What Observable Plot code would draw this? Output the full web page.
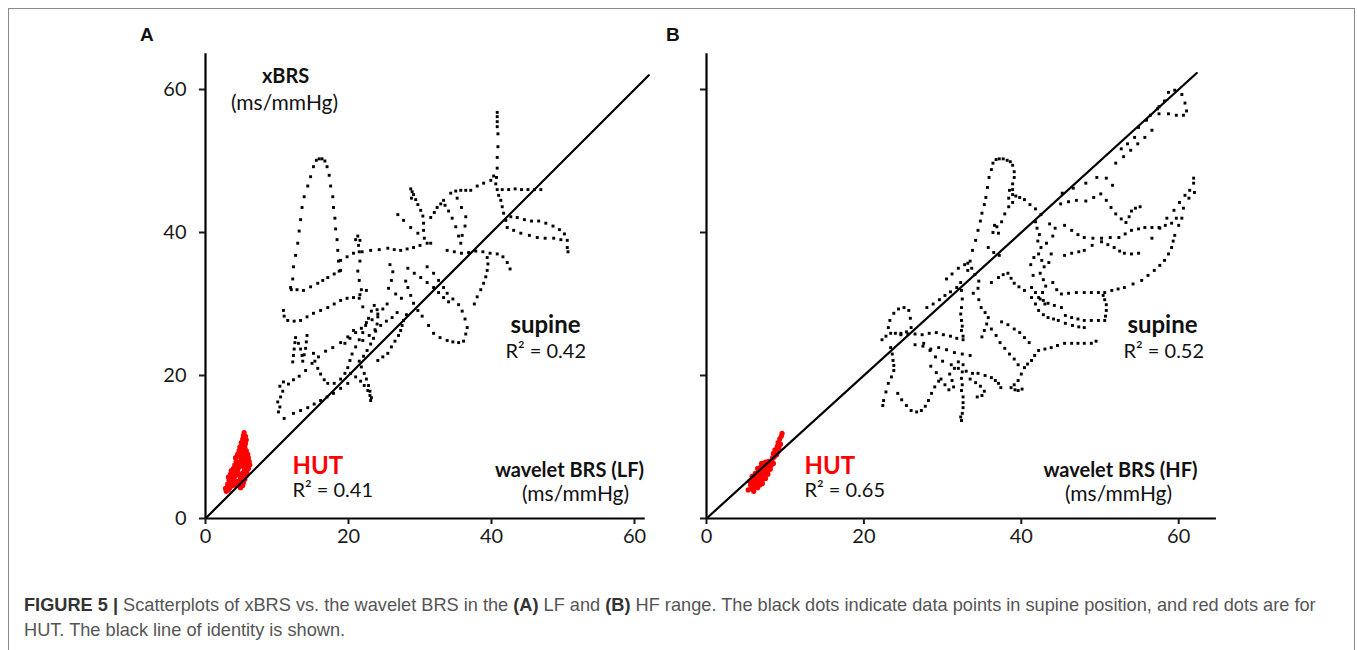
<!DOCTYPE html>
<html><head><meta charset="utf-8">
<script src="https://cdn.jsdelivr.net/npm/d3@7"></script>
<script src="https://cdn.jsdelivr.net/npm/@observablehq/plot@0.6"></script>
<style>
html,body{margin:0;padding:0;background:#fff;width:1357px;height:650px;overflow:hidden;}
#frame{position:absolute;left:8px;top:8px;width:1345px;height:700px;border:1px solid #8a8a8a;}
.panel{position:absolute;}
.letter{position:absolute;font-family:"Liberation Sans",Arial,sans-serif;font-weight:bold;font-size:19px;color:#111;}
#caption{position:absolute;left:24px;top:593px;font-family:"Liberation Sans",Arial,sans-serif;font-size:18.2px;line-height:25px;color:#555;white-space:nowrap;}
#caption b{color:#333;}
</style></head><body>
<div id="frame"></div>
<div class="letter" style="left:140px;top:24px">A</div>
<div class="letter" style="left:666px;top:24px">B</div>
<div id="panelA" class="panel" style="left:120px;top:40px"></div>
<div id="panelB" class="panel" style="left:676px;top:40px"></div>
<div id="caption"><b>FIGURE 5 |</b> Scatterplots of xBRS vs. the wavelet BRS in the <b>(A)</b> LF and <b>(B)</b> HF range. The black dots indicate data points in supine position, and red dots are for<br>HUT. The black line of identity is shown.</div>
<script>
// ---------- shared ----------
const xTicks = [0, 20, 40, 60];
const yTicks = [0, 20, 40, 60];
const identityA = [[0, 0], [62, 62]];
const identityB = [[0, 0], [62.3, 62.3]];

// ---------- data: panel A (wavelet BRS LF vs xBRS), ms/mmHg ----------
const supineA_bell = [[12.0,32.0],[12.2,33.5],[12.3,35.2],[12.6,36.8],[12.9,38.5],[13.1,40.2],[13.3,41.8],[13.5,43.5],[13.8,45.0],[14.3,46.5],[14.7,47.8],[15.1,49.2],[15.5,50.1],[15.9,50.3],[16.3,50.3],[16.7,50.0],[17.0,49.2],[17.3,48.0],[17.5,46.5],[17.8,45.0],[17.9,43.5],[18.1,42.0],[18.2,40.5],[18.4,39.0],[18.5,37.5],[18.6,36.0],[18.7,34.6]];
const supineA_left = [[10.9,29.1],[11.0,28.3],[11.5,27.7],[12.4,27.6],[13.3,27.7],[14.2,28.2],[15.1,28.7],[16.1,29.1],[17.1,29.5],[18.0,30.0],[18.9,30.5],[19.8,30.8],[20.7,30.9],[21.6,31.3],[22.5,31.9],[11.9,32.3],[12.8,32.0],[13.7,31.9],[14.7,32.4],[15.7,32.9],[16.4,33.3],[17.1,33.7],[18.0,34.2],[18.9,34.7]];
const supineA_upper = [[18.9,36.1],[19.8,36.6],[20.7,37.1],[21.9,37.3],[23.1,37.5],[24.3,37.6],[25.5,37.8],[26.4,37.6],[27.3,37.5],[28.2,37.7],[29.1,37.9],[30.0,38.2],[31.0,38.5]];
const supineA_spike21 = [[21.3,39.5],[21.0,39.0],[21.6,38.9],[21.4,38.2],[21.5,37.3],[21.6,36.0],[21.3,34.6],[21.5,33.3],[21.8,32.0],[21.5,30.8],[22.0,29.6]];
const supineA_spike41 = [[40.8,56.8],[40.8,56.2],[40.8,55.5],[40.8,54.8],[40.9,53.8],[40.9,52.0],[40.8,50.5],[40.8,49.0],[40.7,47.7],[40.6,46.8],[40.8,46.0],[41.0,45.2],[41.3,44.5],[41.5,43.6],[41.7,42.7],[42.0,41.7],[42.2,40.7],[43.1,40.3],[44.1,39.9],[45.3,39.6],[46.4,39.3],[47.5,39.2],[48.7,39.2],[49.7,39.0],[50.6,38.9],[50.6,37.9],[50.7,37.3]];
const supineA_rise = [[31.5,42.1],[32.0,42.8],[32.4,43.5],[32.9,44.0],[33.3,44.5],[34.3,45.5],[35.0,45.8],[35.7,45.9],[36.4,45.9],[37.1,45.9],[38.0,46.5],[38.9,46.9],[39.9,47.3],[40.3,47.9]];
const supineA_row46 = [[41.5,46.0],[42.4,46.0],[43.3,46.1],[44.2,46.0],[45.1,46.0],[46.0,46.0],[46.9,46.0]];
const supineA_v36 = [[35.2,44.8],[35.8,43.5],[36.4,42.2],[36.3,40.9],[35.9,39.6],[35.7,38.5],[35.4,39.5],[35.0,40.8],[34.5,42.0],[34.0,43.0],[33.5,43.8]];
const supineA_c29 = [[28.7,46.1],[28.9,45.7],[29.1,45.3],[28.8,44.8],[29.4,44.6],[29.7,43.9],[30.1,43.1],[30.4,42.3],[30.5,41.3],[30.5,40.3],[26.9,42.5],[27.7,41.7],[28.7,40.7],[29.7,39.9],[30.6,39.2],[31.5,38.5]];
const supineA_right = [[42.7,42.2],[43.6,42.1],[44.6,41.8],[45.6,41.6],[46.6,41.6],[47.6,41.3],[48.6,40.9],[49.5,40.4],[50.2,39.8]];
const supineA_row37 = [[33.8,37.5],[34.8,37.3],[35.8,37.1],[36.8,37.2],[37.8,37.4],[38.8,37.3],[39.8,37.1],[40.8,37.0],[41.6,36.6],[42.2,35.8],[42.6,34.9]];
const supineA_drop39 = [[39.4,36.5],[39.5,35.6],[39.4,34.7],[39.2,33.8],[38.9,32.9],[38.5,32.0],[38.0,31.0],[37.6,30.0]];
const supineA_diag = [[31.0,35.2],[31.9,34.3],[32.6,33.3],[33.3,32.3],[33.8,31.5],[34.6,30.7],[35.4,29.9],[35.9,29.0],[36.3,27.9],[36.6,26.7],[36.4,25.8]];
const supineA_tail = [[31.2,27.0],[31.9,25.9],[32.8,25.3],[33.8,24.9],[34.6,24.7],[35.4,24.6],[36.1,24.8]];
const supineA_cross = [[28.3,35.0],[29.2,34.3],[30.1,33.7],[31.0,33.0],[31.9,32.3],[32.6,31.6],[33.3,30.9],[34.0,30.3]];
const supineA_lowleft = [[10.2,14.9],[10.4,15.6],[10.1,16.3],[10.5,17.0],[10.8,17.8],[10.4,18.5],[10.9,19.1],[11.6,18.8],[12.3,19.4],[13.1,19.9],[14.0,20.7],[14.9,21.7],[15.8,22.6],[16.8,23.4],[17.8,23.9],[18.9,24.6],[19.9,25.4],[20.7,26.3]];
const supineA_n = [[12.2,21.9],[12.3,22.8],[12.4,23.7],[12.5,24.6],[12.6,25.3],[13.0,24.5],[13.3,23.7],[13.5,22.8],[13.6,22.0],[13.8,22.9],[14.0,23.8],[14.1,24.7],[14.2,25.6]];
const supineA_loop = [[15.1,23.1],[15.3,22.0],[15.7,21.0],[16.1,20.2],[16.6,19.4],[17.1,18.9],[18.0,18.9],[18.9,19.5],[19.5,20.3],[19.9,21.1],[20.2,22.1],[20.5,23.0]];
const supineA_flame = [[20.3,20.3],[21.0,19.8],[21.7,19.2],[22.2,18.6],[22.7,17.9],[23.0,17.2],[23.1,16.5],[23.2,16.9],[23.0,17.8],[22.8,18.6],[22.5,19.5],[22.2,20.3],[21.8,21.2],[21.5,22.0]];
const supineA_low = [[11.0,14.0],[12.3,14.7],[13.3,15.1],[14.3,15.5],[15.2,16.0],[16.1,16.5],[17.0,17.0],[17.9,17.5],[18.9,18.2],[19.9,18.9]];
const supineA_leaf = [[21.0,24.0],[21.5,25.0],[22.0,26.0],[22.4,27.0],[22.8,28.0],[23.2,29.0],[23.6,29.8],[24.0,29.2],[24.1,28.2],[24.0,27.2],[23.8,26.2],[23.5,25.2],[23.1,24.4],[22.6,23.5],[22.1,22.7],[19.5,24.5],[20.2,25.2],[21.0,26.0],[21.8,26.6],[22.5,27.4],[23.3,27.8],[24.1,28.6],[24.8,29.3],[25.4,30.0],[22.0,24.9],[22.9,25.6],[23.7,26.4],[24.5,27.0],[25.3,27.6],[26.1,28.1],[26.8,28.8]];
const supineA_stair = [[24.1,22.1],[24.8,22.6],[25.5,23.1],[26.0,24.0],[26.5,24.8],[27.0,25.6],[27.3,26.3],[27.5,27.0],[27.7,27.7],[28.1,28.5]];
const supineA_mid = [[28.0,33.2],[28.3,32.3],[28.7,31.2],[29.1,30.1],[29.7,29.1],[30.3,28.3],[25.8,35.5],[26.2,34.5],[26.0,33.3],[25.6,32.2],[26.6,31.4],[27.4,30.8]];

const hutA = [[2.9,3.8],[3.0,4.3],[3.1,4.8],[3.3,5.3],[3.2,5.8],[3.5,6.2],[3.6,6.7],[3.9,7.0],[4.1,7.5],[4.3,8.0],[4.2,8.5],[4.5,9.0],[4.7,9.5],[4.8,10.0],[5.0,10.6],[5.2,11.1],[5.3,11.6],[5.4,12.0],[5.6,11.5],[5.7,11.0],[5.6,10.5],[5.5,10.0],[5.7,9.5],[5.9,9.0],[6.0,8.5],[6.1,8.0],[6.2,7.5],[6.0,7.0],[5.8,6.5],[5.7,6.0],[5.5,5.5],[5.3,5.0],[5.2,4.6],[4.9,4.3],[4.8,5.0],[4.9,5.6],[4.7,6.2],[4.5,6.8],[4.3,6.3],[4.0,5.8],[3.8,5.3],[3.6,4.8],[3.4,4.3],[3.2,4.0],[4.4,7.4],[4.7,7.8],[5.0,8.2],[5.2,8.7],[4.9,9.2],[3.7,6.0],[3.9,6.5],[4.1,7.0],[3.4,5.5],[3.8,4.6],[4.0,5.1],[5.5,6.8],[5.8,7.4],[5.4,7.9],
  [3.3,4.6],[3.5,5.0],[3.7,5.6],[4.2,6.0],[4.4,6.5],[4.6,7.1],[4.8,7.5],[5.1,7.6],[5.3,8.2],[5.4,9.0],[5.3,9.6],[5.2,10.2],[5.0,9.8],[4.9,8.6],[5.6,8.4],[5.7,7.8],[5.3,7.2],[5.2,6.4],[5.0,5.9],[5.1,5.3],[4.6,4.6],[4.4,5.2],[4.2,4.7],[3.1,4.4],[2.8,4.2]];

// ---------- data: panel B (wavelet BRS HF vs xBRS) ----------
const supineB_bell = [[33.2,34.7],[33.5,36.0],[33.8,37.5],[34.2,38.9],[34.5,40.3],[34.8,41.6],[35.0,42.7],[35.3,43.9],[35.5,44.9],[35.7,46.3],[35.9,47.7],[36.2,48.8],[36.4,49.7],[36.8,50.2],[37.2,50.3],[37.7,50.3],[38.2,50.1],[38.6,49.9],[38.9,49.4],[39.1,48.5],[39.1,47.7],[38.9,46.8],[38.9,46.0]];
const supineB_c38 = [[38.5,45.9],[38.9,45.3],[38.4,44.8],[38.9,44.2],[39.3,45.1],[38.4,43.6],[37.9,42.6],[37.5,41.5],[36.9,40.8],[36.4,40.0],[39.8,44.9],[40.4,44.6],[41.1,43.9],[41.8,43.3],[42.5,42.5]];
const supineB_line = [[45.2,45.5],[46.6,46.2],[48.2,46.9],[49.6,47.7],[50.8,47.6],[51.6,46.6],[52.0,49.7],[52.7,51.7],[53.5,52.4],[54.4,53.3],[54.9,54.7],[55.9,55.7],[56.4,56.4],[57.3,57.3],[57.5,57.6],[58.2,58.4],[58.7,59.6],[59.5,59.9],[60.4,59.3],[60.8,58.1],[61.0,57.0],[60.6,56.4],[59.7,56.4],[58.7,56.6],[57.5,56.6],[53.0,50.6],[53.9,51.5],[54.8,52.4],[55.7,53.3],[56.6,54.3]];
const supineB_44 = [[45.0,44.0],[46.0,44.3],[47.0,44.5],[48.2,44.4],[49.2,44.9],[50.1,45.4],[50.8,44.5],[51.4,43.5],[52.0,42.6],[52.7,41.9],[53.3,41.4],[53.7,42.2],[54.0,43.0],[54.5,43.4],[55.1,43.6]];
const supineB_r62a = [[61.9,47.6],[61.9,46.9],[62.0,45.6],[61.4,45.9],[60.8,45.2],[60.1,44.2],[59.4,43.1],[58.5,42.0],[57.6,40.6],[56.6,39.2]];
const supineB_r62b = [[61.3,44.8],[60.6,43.4],[60.4,42.0],[60.0,41.0],[59.5,39.6],[59.3,38.8],[59.1,37.9],[58.7,37.0],[58.2,36.1],[57.6,35.4],[56.9,34.7],[56.1,34.0],[55.3,33.3],[54.2,32.8],[53.1,32.3],[52.3,32.1],[51.5,31.9],[50.6,31.6]];
const supineB_40 = [[45.5,41.0],[46.4,40.3],[47.2,39.7],[48.0,39.3],[49.1,39.2],[50.2,39.2],[51.3,39.3],[52.4,39.3],[53.2,39.8],[54.0,40.3],[54.9,40.5],[55.7,40.7],[56.6,40.7],[57.5,40.7],[58.3,41.0],[59.1,41.3],[59.7,42.0]];
const supineB_37 = [[45.5,36.8],[46.4,37.1],[47.3,37.3],[48.0,37.5],[49.0,38.2],[50.2,38.7],[51.0,38.3],[51.8,37.9],[52.5,37.4],[53.1,37.1],[54.0,37.0],[54.9,37.1]];
const supineB_rect = [[45.1,31.4],[46.0,31.5],[47.0,31.6],[48.0,31.6],[48.9,31.6],[49.8,31.6],[50.4,31.2],[50.6,30.6],[50.8,29.9],[50.8,29.1],[50.7,28.3],[50.6,27.7],[49.8,27.7],[48.9,27.7],[48.0,27.7],[47.2,27.9],[46.4,28.1],[45.6,28.4]];
const supineB_mid1 = [[41.3,30.9],[41.8,30.0],[42.2,29.1],[42.8,28.5],[43.4,28.1],[44.1,27.9],[44.7,27.7],[45.6,27.3],[46.5,27.0],[47.3,26.8],[48.0,26.7]];
const supineB_bottom = [[49.5,24.8],[48.9,24.5],[48.0,24.5],[47.2,24.5],[46.4,24.5],[45.5,24.5],[44.6,24.2],[43.8,23.9],[43.0,23.7],[42.2,23.5],[41.7,22.8],[41.3,22.1],[40.8,21.6],[40.4,21.1],[40.0,20.2],[39.6,19.3],[39.1,18.7],[38.7,18.3],[39.2,18.0],[39.6,17.9],[40.1,18.1]];
const supineB_col42 = [[41.8,41.5],[42.0,40.6],[42.3,39.7],[42.1,38.8],[42.5,37.9],[42.2,37.0],[42.6,36.1],[42.9,35.2],[42.4,34.3],[42.8,33.4],[43.1,32.5],[42.7,31.6],[42.4,30.7],[43.0,30.0],[43.5,35.8],[43.8,37.0],[41.6,36.5],[41.2,35.5],[41.5,34.0],[43.2,38.5],[44.0,39.5],[44.3,40.6],[43.6,41.2],[44.0,33.0],[44.5,32.0]];
const supineB_mid2 = [[36.2,33.0],[37.1,33.7],[37.7,34.1],[38.3,34.3],[38.7,33.6],[39.1,32.9],[39.7,32.4],[40.4,31.9],[41.3,32.3],[41.8,31.6],[42.2,30.9],[42.8,30.5],[43.4,30.1],[44.2,29.8],[45.1,29.5]];
const supineB_top = [[36.6,41.0],[37.1,39.9],[35.8,37.9],[36.5,37.2],[37.2,36.8]];
const supineB_col32 = [[32.3,33.0],[32.4,31.9],[32.5,30.7],[32.4,29.5],[32.3,28.6],[32.4,27.7],[32.5,26.9],[32.4,26.3],[32.6,25.5]];
const supineB_c35 = [[34.6,30.6],[34.9,29.5],[35.4,28.8],[35.8,28.1],[35.6,27.2],[35.3,26.3],[35.0,25.4]];
const supineB_flower = [[23.1,26.7],[23.3,27.7],[23.8,28.7],[24.4,29.3],[25.1,29.5],[25.7,29.1],[25.9,28.0],[26.0,26.7],[25.4,26.1],[24.7,25.9],[24.0,25.9],[23.4,25.9],[22.8,25.5],[22.3,25.0]];
const supineB_h26 = [[24.7,25.7],[25.6,25.8],[26.5,25.8],[27.4,25.7],[28.3,25.9],[29.2,26.0],[30.1,25.7],[31.0,25.5],[31.8,25.2],[32.6,25.0]];
const supineB_h24 = [[26.5,24.3],[27.5,24.1],[28.5,23.7],[29.5,23.9],[30.5,23.6],[31.5,23.2],[32.5,23.0],[33.5,22.8]];
const supineB_tail = [[23.4,23.9],[23.6,23.0],[23.7,22.1],[23.8,21.4],[23.8,20.7],[23.5,19.8],[23.1,18.9],[22.8,17.7],[22.5,16.5],[22.4,15.8],[24.3,17.5],[24.8,16.6],[25.4,15.8],[26.0,15.1],[26.7,14.9],[27.3,15.1],[27.8,15.7],[28.2,16.5],[28.6,17.5],[29.0,18.4],[29.5,19.2]];
const supineB_spike = [[32.6,21.5],[32.5,20.5],[32.4,19.6],[32.5,18.7],[32.4,17.9],[32.6,17.0],[32.6,16.2],[32.6,15.5],[32.5,14.7],[32.4,13.7],[32.3,14.2]];
const supineB_low1 = [[27.6,24.5],[28.4,23.5],[29.1,22.6],[30.0,22.0],[31.1,21.5],[32.0,21.0],[33.0,20.6],[33.8,20.3],[34.5,20.3],[35.4,20.0],[36.2,19.7],[36.7,19.3],[37.1,18.9],[37.4,18.3]];
const supineB_low2 = [[28.5,21.3],[29.2,20.4],[29.8,19.5],[30.3,18.7],[30.8,18.0],[31.4,18.4],[31.2,19.3],[30.9,20.2],[31.5,21.0],[32.0,21.9],[33.5,19.5],[34.2,19.0],[34.8,18.5],[35.3,17.8],[35.0,17.2],[34.4,17.0]];
const supineB_low3 = [[36.2,26.5],[36.8,25.6],[37.3,24.6],[37.9,23.8],[38.5,23.0],[39.1,22.3],[39.6,21.5],[37.5,27.5],[38.3,27.1],[39.1,26.5],[39.8,26.0],[40.4,25.3],[41.0,24.6]];
const supineB_cross = [[30.5,33.5],[31.2,34.2],[32.0,35.0],[32.8,35.5],[33.2,35.7],[33.7,35.0],[34.1,34.1],[34.6,33.2],[34.5,32.2],[33.9,31.5],[28.0,29.5],[28.8,30.0],[29.6,30.6],[30.3,31.2],[31.0,31.7],[31.8,32.3]];

const hutB = [[5.3,4.0],[5.7,4.2],[6.1,4.4],[5.6,4.7],[6.0,5.0],[6.4,5.0],[6.8,5.2],[5.9,5.5],[6.3,5.7],[6.7,5.9],[7.1,6.0],[6.2,6.3],[6.6,6.5],[7.0,6.6],[7.4,6.7],[6.5,7.0],[6.9,7.2],[7.3,7.3],[7.7,7.3],[7.0,7.7],[7.5,7.9],[7.9,8.0],[8.3,8.1],[8.2,7.4],[8.5,7.7],[7.8,6.7],[8.1,6.9],[7.4,6.1],[7.8,6.2],[7.2,5.5],[7.5,5.6],[6.8,4.7],[7.1,4.9],[8.6,8.6],[8.5,9.1],[8.7,9.6],[9.0,10.1],[9.1,10.6],[9.3,11.1],[9.5,11.5],[9.6,11.9],[9.4,10.4],[9.2,9.9],[9.0,9.3],[8.9,8.9],[8.4,8.5],[6.0,3.8],[6.5,4.3],[5.5,5.2],
  [5.8,4.5],[6.3,4.7],[6.6,5.5],[7.0,6.3],[7.3,6.9],[7.6,7.0],[8.0,7.6],[7.7,7.7],[6.8,6.8],[6.2,5.3],[5.8,5.9],[6.4,6.1],[7.2,7.1]];

const supineA = [].concat(supineA_bell, supineA_left, supineA_upper, supineA_spike21, supineA_spike41, supineA_rise, supineA_row46, supineA_v36, supineA_c29, supineA_right, supineA_row37, supineA_drop39, supineA_diag, supineA_tail, supineA_cross, supineA_lowleft, supineA_n, supineA_loop, supineA_flame, supineA_low, supineA_leaf, supineA_stair, supineA_mid);
const supineB = [].concat(supineB_bell, supineB_c38, supineB_line, supineB_44, supineB_r62a, supineB_r62b, supineB_40, supineB_37, supineB_rect, supineB_mid1, supineB_bottom, supineB_col42, supineB_mid2, supineB_top, supineB_col32, supineB_c35, supineB_flower, supineB_h26, supineB_h24, supineB_tail, supineB_spike, supineB_low1, supineB_low2, supineB_low3, supineB_cross);

// ---------- drawing ----------
const FONT = "Lato, 'Open Sans', sans-serif";
const note = (t, x, y, o = {}) => Plot.text([t], {x, y, text: d => d, lineAnchor: "bottom", fontFamily: FONT, fill: "#111", ...o});

function panel({supine, hut, identity, xMax, unitX, marginLeft, showLabels, notes}) {
  const unitY = 7.15, yMax = 65, marginTop = 13.25, marginBottom = 52, marginRight = 5;
  const width = marginLeft + xMax * unitX + marginRight;
  const height = marginTop + yMax * unitY + marginBottom;
  const xy = {x: d => d[0], y: d => d[1]};
  return Plot.plot({
    width, height, marginLeft, marginRight, marginTop, marginBottom,
    style: {fontFamily: FONT, fontSize: "20px", color: "#1a1a1a", background: "transparent", overflow: "visible"},
    x: {domain: [0, xMax]},
    y: {domain: [0, yMax]},
    marks: [
      Plot.dot(supine, {...xy, symbol: "square", r: 1.65, fill: "#000"}),
      Plot.dot(hut, {...xy, r: 2.6, fill: "#ff0000"}),
      Plot.line(identity, {...xy, stroke: "#000", strokeWidth: 2.2}),
      Plot.ruleX([0], {stroke: "#000", strokeWidth: 2.2}),
      Plot.ruleY([0], {stroke: "#000", strokeWidth: 2.2}),
      Plot.axisX({ticks: xTicks, tickSize: 6, tickPadding: 4, strokeWidth: 2, label: null}),
      Plot.axisY({ticks: yTicks, tickSize: 6, tickPadding: 13, strokeWidth: 2, label: null, tickFormat: showLabels ? (d => d) : (() => "")}),
      ...notes
    ]
  });
}

document.getElementById("panelA").append(panel({
  supine: supineA, hut: hutA, identity: identityA, xMax: 61.5, unitX: 7.15, marginLeft: 85, showLabels: true,
  notes: [
    note("xBRS", 11.2, 60.84, {fontWeight: "bold", fontSize: 20}),
    note("(ms/mmHg)", 11.05, 57.2, {fontSize: 21}),
    note("supine", 47.55, 26.0, {fontWeight: "bold", fontSize: 24}),
    note("R² = 0.42", 41.96, 22.5, {textAnchor: "start", fontSize: 20}),
    note("HUT", 12.17, 6.29, {textAnchor: "start", fontWeight: "bold", fontSize: 24, fill: "#ff0000"}),
    note("R² = 0.41", 12.17, 2.94, {textAnchor: "start", fontSize: 20}),
    note("wavelet BRS (LF)", 50.9, 5.87, {fontWeight: "bold", fontSize: 20}),
    note("(ms/mmHg)", 51.75, 2.38, {fontSize: 21})
  ]
}));

document.getElementById("panelB").append(panel({
  supine: supineB, hut: hutB, identity: identityB, xMax: 64.8, unitX: 7.87, marginLeft: 30, showLabels: false,
  notes: [
    note("supine", 57.94, 26.0, {fontWeight: "bold", fontSize: 24}),
    note("R² = 0.52", 52.99, 22.5, {textAnchor: "start", fontSize: 20}),
    note("HUT", 12.45, 6.29, {textAnchor: "start", fontWeight: "bold", fontSize: 24, fill: "#ff0000"}),
    note("R² = 0.65", 12.45, 2.94, {textAnchor: "start", fontSize: 20}),
    note("wavelet BRS (HF)", 52.6, 5.87, {fontWeight: "bold", fontSize: 20}),
    note("(ms/mmHg)", 52.35, 2.38, {fontSize: 21})
  ]
}));
</script>
</body></html>
